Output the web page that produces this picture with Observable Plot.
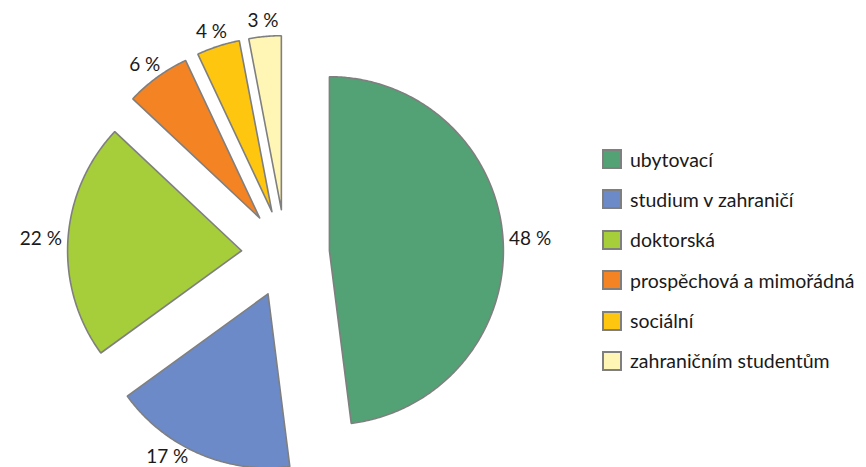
<!DOCTYPE html>
<html><head><meta charset="utf-8">
<script src="https://cdn.jsdelivr.net/npm/d3@7"></script>
<script src="https://cdn.jsdelivr.net/npm/@observablehq/plot@0.6"></script>
<style>
body{margin:0;background:#fff;font-family:Lato,"Open Sans",sans-serif;}
#wrap{position:relative;width:866px;height:467px;overflow:hidden;}
#chart{position:absolute;left:0;top:0;}
#legend{position:absolute;left:602px;top:149px;}
.item{display:flex;align-items:center;height:20px;margin-bottom:20.4px;font-size:19.5px;color:#1a1a1a;white-space:nowrap;}
.sw{width:20px;height:20px;box-sizing:border-box;border:2px solid #7f7f7f;margin-right:8px;flex:none;}
</style></head><body>
<div id="wrap"><div id="chart"></div><div id="legend"></div></div>
<script>
const categories = ["ubytovací","studium v zahraničí","doktorská","prospěchová a mimořádná","sociální","zahraničním studentům"];
const shares = [48, 17, 22, 6, 4, 3];
const labels = ["48 %","17 %","22 %","6 %","4 %","3 %"];
const colors = ["#52a275","#6c8ac7","#a6cd3a","#f48324","#fec60f","#fff5b4"];

// layout (pixels)
const W = 590, H = 467, CX = 285, CY = 253, R = 174, EXPLODE = 44, GAP = 6, FONT = 19;

const pie = d3.pie().sort(null).value(d => d)(shares);
const ex = EXPLODE / R;
const poly = [];
const lab = [];
const ctx = document.createElement("canvas").getContext("2d");
ctx.font = `${FONT}px Lato`;
pie.forEach((p, i) => {
  const mid = (p.startAngle + p.endAngle) / 2;
  const ox = ex * Math.sin(mid), oy = ex * Math.cos(mid);
  const pts = [[ox, oy]];
  const n = Math.max(4, Math.ceil((p.endAngle - p.startAngle) / (Math.PI / 360)));
  for (let k = 0; k <= n; k++) {
    const a = p.startAngle + (p.endAngle - p.startAngle) * k / n;
    pts.push([ox + Math.sin(a), oy + Math.cos(a)]);
  }
  pts.push([ox, oy]);
  pts.forEach(([x, y]) => poly.push({name: categories[i], x, y}));
  // label: box just outside the exploded arc, along the mid angle
  const hw = ctx.measureText(labels[i]).width / 2, hh = FONT * 0.5;
  const rr = (R + EXPLODE + GAP) / R;
  let lx = rr * Math.sin(mid) + Math.sin(mid) * hw / R;
  let ly = rr * Math.cos(mid) + Math.cos(mid) * hh / R;
  // keep the label inside the plot: rotate it along its circle if it falls below the bottom
  const dist = Math.hypot(lx, ly);
  const minY = -(H - CY - hh - 1) / R;
  if (ly < minY) {
    const c = -minY / dist; // -cos(a)
    const a0 = Math.acos(Math.min(1, c));
    const a = Math.sin(mid) < 0 ? Math.PI + a0 : Math.PI - a0;
    lx = dist * Math.sin(a); ly = dist * Math.cos(a);
  }
  lab.push({text: labels[i], x: lx, y: ly});
});

const chart = Plot.plot({
  width: W, height: H,
  margin: 0,
  x: {domain: [-CX / R, (W - CX) / R], axis: null},
  y: {domain: [-(H - CY) / R, CY / R], axis: null},
  color: {domain: categories, range: colors},
  style: {background: "transparent", overflow: "visible"},
  marks: [
    Plot.line(poly, {x: "x", y: "y", z: "name", fill: "name", stroke: "#7f7f7f", strokeWidth: 1.6, strokeLinejoin: "miter", curve: "linear"}),
    Plot.text(lab, {x: "x", y: "y", text: "text", textAnchor: "middle", lineAnchor: "middle", fontSize: FONT, fontFamily: "Lato", fill: "#1a1a1a"})
  ]
});
document.getElementById("chart").appendChild(chart);

const leg = document.getElementById("legend");
categories.forEach((c, i) => {
  const it = document.createElement("div");
  it.className = "item";
  const sw = document.createElement("span");
  sw.className = "sw";
  sw.style.background = colors[i];
  const t = document.createElement("span");
  t.textContent = c;
  it.appendChild(sw); it.appendChild(t);
  leg.appendChild(it);
});
</script>
</body></html>
